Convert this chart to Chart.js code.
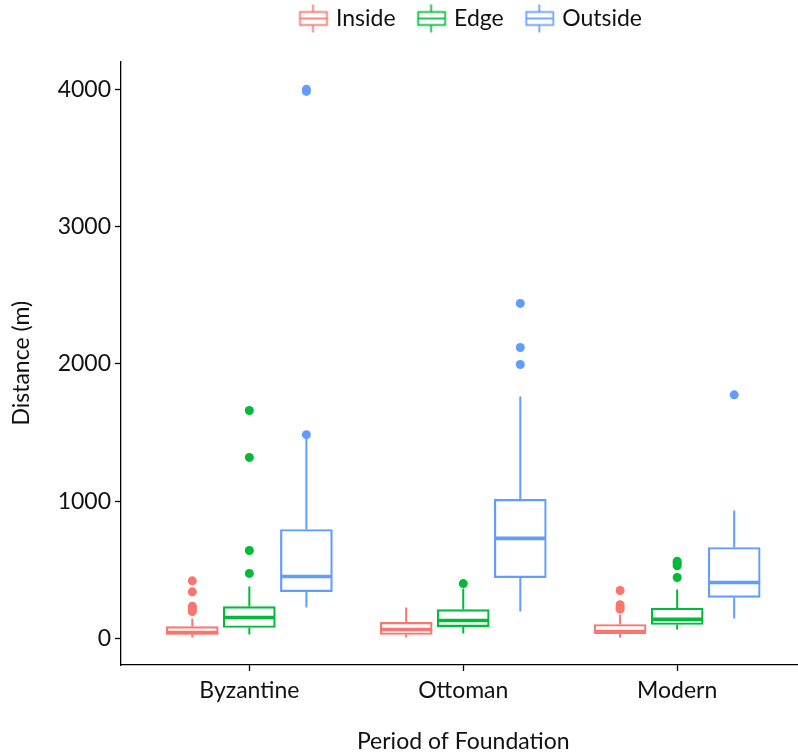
<!DOCTYPE html>
<html>
<head>
<meta charset="utf-8">
<script src="https://cdn.jsdelivr.net/npm/chart.js@4.4.1/dist/chart.umd.min.js"></script>
<style>
  html, body { margin: 0; padding: 0; background: #fff; overflow: hidden; }
  canvas { display: block; }
</style>
</head>
<body>
<canvas id="chart" width="810" height="755"></canvas>
<script>
// Categories and groups
const PERIODS = ['Byzantine', 'Ottoman', 'Modern'];
const LOCATIONS = ['Inside', 'Edge', 'Outside'];
const Y_TICKS = [0, 1000, 2000, 3000, 4000];

// Box statistics (metres), one value per period
const INSIDE_MIN = [7, 7, 7];
const INSIDE_Q1 = [29, 29, 36];
const INSIDE_MED = [44, 66, 51];
const INSIDE_Q3 = [87, 117, 102];
const INSIDE_MAX = [146, 226, 175];
const INSIDE_OUT = [[420, 340, 235, 222, 208, 196], [], [350, 246, 230, 214]];

const EDGE_MIN = [29, 36, 66];
const EDGE_Q1 = [80, 87, 102];
const EDGE_MED = [153, 131, 140];
const EDGE_Q3 = [233, 211, 222];
const EDGE_MAX = [379, 364, 357];
const EDGE_OUT = [[474, 641, 1319, 1661], [400], [444, 530, 548, 562]];

const OUTSIDE_MIN = [226, 197, 146];
const OUTSIDE_Q1 = [342, 444, 299];
const OUTSIDE_MED = [452, 729, 408];
const OUTSIDE_Q3 = [794, 1013, 663];
const OUTSIDE_MAX = [1460, 1763, 933];
const OUTSIDE_OUT = [[1485, 3985, 4000], [1996, 2120, 2441], [1775]];

// ggplot default hues
const COLORS = ['#F8766D', '#00BA38', '#619CFF'];
const DODGE = [-0.2667, 0, 0.2667];
const BOX_HALF = 0.12;

const SERIES = [
    { min: INSIDE_MIN, q1: INSIDE_Q1, med: INSIDE_MED, q3: INSIDE_Q3, max: INSIDE_MAX, out: INSIDE_OUT },
    { min: EDGE_MIN, q1: EDGE_Q1, med: EDGE_MED, q3: EDGE_Q3, max: EDGE_MAX, out: EDGE_OUT },
    { min: OUTSIDE_MIN, q1: OUTSIDE_Q1, med: OUTSIDE_MED, q3: OUTSIDE_Q3, max: OUTSIDE_MAX, out: OUTSIDE_OUT }
];

Chart.defaults.font.family = 'Lato, sans-serif';
Chart.defaults.color = '#111';

// Small boxplot glyph for the legend
function makeGlyph(color) {
    const c = document.createElement('canvas');
    c.width = 80;
    c.height = 30;
    const g = c.getContext('2d');
    g.strokeStyle = color;
    g.lineWidth = 1.7;
    const cx = 48.5;
    g.beginPath();
    g.moveTo(cx, 1); g.lineTo(cx, 8);
    g.moveTo(cx, 22); g.lineTo(cx, 29);
    g.stroke();
    g.strokeRect(35.5, 8.5, 27, 13);
    g.beginPath();
    g.moveTo(35.5, 15); g.lineTo(62.5, 15);
    g.stroke();
    return c;
}
const glyphs = COLORS.map(makeGlyph);

// Build datasets: whiskers, boxes, medians, outliers
const datasets = [];
SERIES.forEach((s, k) => {
    const col = COLORS[k];
    const xs = PERIODS.map((p, i) => i + 1 + DODGE[k]);

    const whisker = [];
    xs.forEach((x, i) => {
        whisker.push({ x, y: s.min[i] }, { x, y: s.q1[i] }, { x, y: null });
        whisker.push({ x, y: s.q3[i] }, { x, y: s.max[i] }, { x, y: null });
    });
    datasets.push({
        type: 'line', label: LOCATIONS[k] + ' whisker', data: whisker,
        borderColor: col, borderWidth: 2, pointRadius: 0, spanGaps: false, order: 3
    });

    datasets.push({
        type: 'bar', label: LOCATIONS[k],
        data: xs.map((x, i) => ({ x, y: [s.q1[i], s.q3[i]] })),
        backgroundColor: '#fff', borderColor: col, borderWidth: 2.2,
        borderSkipped: false, barThickness: 52, grouped: false, order: 2
    });

    const med = [];
    xs.forEach((x, i) => {
        med.push({ x: x - BOX_HALF, y: s.med[i] }, { x: x + BOX_HALF, y: s.med[i] }, { x, y: null });
    });
    datasets.push({
        type: 'line', label: LOCATIONS[k] + ' median', data: med,
        borderColor: col, borderWidth: 3.6, pointRadius: 0, spanGaps: false, order: 1
    });

    const pts = [];
    xs.forEach((x, i) => s.out[i].forEach(v => pts.push({ x, y: v })));
    datasets.push({
        type: 'scatter', label: LOCATIONS[k] + ' outliers', data: pts,
        backgroundColor: col, borderWidth: 0, pointRadius: 4.5, order: 0
    });
});

const axisGrid = { display: true, drawOnChartArea: false, offset: false, tickLength: 6, tickColor: '#000', tickWidth: 1.3 };
const axisBorder = { display: true, color: '#000', width: 1.3 };

new Chart(document.getElementById('chart'), {
    type: 'bar',
    data: { datasets },
    options: {
        responsive: false,
        animation: false,
        devicePixelRatio: 1,
        layout: { padding: 0 },
        plugins: {
            tooltip: { enabled: false },
            legend: {
                position: 'top',
                fullSize: false,
                onClick: null,
                labels: {
                    usePointStyle: true,
                    pointStyleWidth: 40,
                    padding: 7,
                    color: '#111',
                    font: { size: 23 },
                    generateLabels: () => LOCATIONS.map((t, k) => ({
                        text: t, pointStyle: glyphs[k], fillStyle: '#fff',
                        strokeStyle: COLORS[k], lineWidth: 0, hidden: false,
                        datasetIndex: k * 4 + 1, fontColor: '#111'
                    }))
                }
            }
        },
        scales: {
            x: {
                type: 'linear', position: 'bottom', min: 0.4, max: 3.6, offset: false,
                afterBuildTicks: s => { s.ticks = PERIODS.map((p, i) => ({ value: i + 1 })); },
                afterFit: s => { s.height = 90; },
                ticks: { callback: v => PERIODS[v - 1], font: { size: 23 }, color: '#111', padding: 6, maxRotation: 0, autoSkip: false },
                grid: axisGrid,
                border: axisBorder,
                title: { display: true, text: 'Period of Foundation', font: { size: 23 }, color: '#111', padding: { top: 0, bottom: 0 } }
            },
            y: {
                type: 'linear', position: 'left', min: -193, max: 4203,
                afterBuildTicks: s => { s.ticks = Y_TICKS.map(v => ({ value: v })); },
                afterFit: s => { s.width = 121; },
                ticks: { callback: v => String(v), font: { size: 23 }, color: '#111', padding: 4 },
                grid: axisGrid,
                border: axisBorder,
                title: { display: true, text: 'Distance (m)', font: { size: 23 }, color: '#111', padding: { top: 8, bottom: 0 } }
            },
            top: {
                type: 'linear', position: 'top', display: true,
                afterFit: s => { s.height = 21.5; },
                grid: { display: false },
                border: { display: false },
                ticks: { display: false }
            }
        }
    }
});
</script>
</body>
</html>
